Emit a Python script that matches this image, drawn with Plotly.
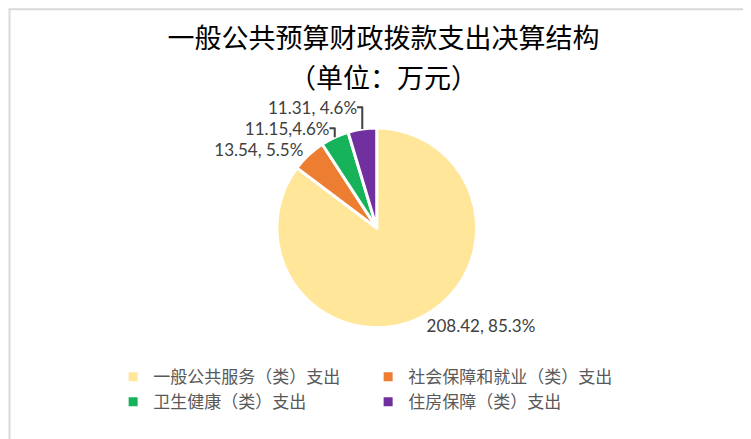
import plotly.graph_objects as go

categories = ['一般公共服务（类）支出', '社会保障和就业（类）支出', '卫生健康（类）支出', '住房保障（类）支出']
values = [208.42, 13.54, 11.15, 11.31]
label_text = ['208.42, 85.3%', '13.54, 5.5%', '11.15,4.6%', '11.31, 4.6%']
colors = ['#FFE699', '#ED7D31', '#17B35A', '#7030A0']

fig = go.Figure()
fig.add_trace(go.Pie(
    labels=categories, values=values, text=label_text,
    texttemplate='%{text}', textinfo='text', textposition='outside',
    textfont=dict(family='Lato, Open Sans', size=17, color='#404040'),
    marker=dict(colors=colors, line=dict(color='white', width=3)),
    sort=False, direction='clockwise', rotation=0,
    domain=dict(x=[0.358, 0.624], y=[0.271, 0.727]),
    hoverinfo='label+value+percent',
))

fig.update_layout(
    width=751, height=439,
    margin=dict(l=0, r=0, t=0, b=0),
    paper_bgcolor='white',
    title=dict(text='一般公共预算财政拨款支出决算结构',
               x=0.5, xanchor='center', y=1 - 31 / 439, yanchor='middle',
               font=dict(family='Noto Sans CJK SC', size=27, color='black')),
    annotations=[dict(text='（单位：万元）', xref='paper', yref='paper',
                      x=0.5, y=1 - 68 / 439, xanchor='center', yanchor='middle',
                      showarrow=False,
                      font=dict(family='Noto Sans CJK SC', size=27, color='black'))],
    legend=dict(orientation='h', x=0.14, xanchor='left', y=0.2, yanchor='top',
                entrywidth=210, entrywidthmode='pixels',
                font=dict(family='Noto Sans CJK SC', size=17, color='#595959'),
                itemwidth=30),
    shapes=[dict(type='rect', xref='paper', yref='paper', x0=0.002, y0=0.003, x1=0.998, y1=0.997,
                 line=dict(color='#D9D9D9', width=2))],
)

fig.write_html('out.html')
